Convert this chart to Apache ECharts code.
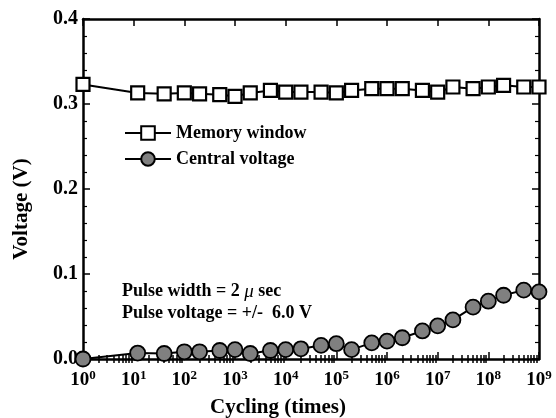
<!DOCTYPE html>
<html>
<head>
<meta charset="utf-8">
<script src="https://cdn.jsdelivr.net/npm/echarts@6/dist/echarts.min.js"></script>
<style>
  html, body { margin: 0; padding: 0; background: #fff; }
  #chart { width: 556px; height: 418px; }
</style>
</head>
<body>
<div id="chart"></div>
<script>
// Endurance cycling data: memory window and central voltage versus cycle count
const cycles = [1, 12, 40, 100, 200, 500, 1000, 2000, 5000, 1e4, 2e4, 5e4, 1e5, 2e5, 5e5,
                1e6, 2e6, 5e6, 1e7, 2e7, 5e7, 1e8, 2e8, 5e8, 1e9];
const memoryWindow = [0.323, 0.313, 0.312, 0.313, 0.312, 0.311, 0.309, 0.313, 0.316, 0.314,
                      0.314, 0.314, 0.313, 0.316, 0.318, 0.318, 0.318, 0.316, 0.314, 0.320,
                      0.318, 0.320, 0.322, 0.320, 0.320];
const centralVoltage = [0.000, 0.007, 0.0065, 0.0085, 0.0085, 0.010, 0.011, 0.0065, 0.010, 0.011,
                        0.012, 0.016, 0.018, 0.011, 0.019, 0.021, 0.025, 0.033, 0.039, 0.046,
                        0.061, 0.068, 0.075, 0.081, 0.079];

// Axis ticks
const decadeTicks = [1, 10, 100, 1e3, 1e4, 1e5, 1e6, 1e7, 1e8, 1e9];
const minorDecadeTicks = [];
decadeTicks.slice(0, -1).forEach(d => { for (let k = 2; k <= 9; k++) minorDecadeTicks.push(d * k); });
const yTicks = [0, 0.1, 0.2, 0.3, 0.4];

const FONT = 'Liberation Serif';
const axisLine = { show: true, onZero: false, lineStyle: { color: '#000', width: 2.5 } };

function logAxis(position, ticks, len, labels, lineShow) {
  return {
    type: 'log', logBase: 10, min: 1, max: 1e9, position: position,
    axisLine: lineShow ? axisLine : { show: false },
    axisTick: { show: true, inside: true, length: len, customValues: ticks,
                lineStyle: { color: '#000', width: 1.5 } },
    axisLabel: labels ? {
      show: true, margin: 10, customValues: decadeTicks,
      formatter: v => '{b|10}{s|' + Math.round(Math.log10(v)) + '}',
      rich: {
        b: { fontFamily: FONT, fontWeight: 'bold', fontSize: 19, color: '#000', lineHeight: 22 },
        s: { fontFamily: FONT, fontWeight: 'bold', fontSize: 13, color: '#000', verticalAlign: 'top', lineHeight: 22 }
      }
    } : { show: false },
    splitLine: { show: false }
  };
}

function valueAxis(position, labels) {
  return {
    type: 'value', min: 0, max: 0.4, interval: 0.1, position: position,
    axisLine: axisLine,
    axisTick: { show: true, inside: true, length: 7, lineStyle: { color: '#000', width: 1.5 } },
    minorTick: { show: true, splitNumber: 5, length: 4, lineStyle: { color: '#000', width: 1.2 } },
    axisLabel: labels ? {
      show: true, margin: 5, customValues: yTicks,
      formatter: v => v.toFixed(1),
      fontFamily: FONT, fontWeight: 'bold', fontSize: 20, color: '#000'
    } : { show: false },
    splitLine: { show: false }
  };
}

const chart = echarts.init(document.getElementById('chart'), null, { renderer: 'canvas' });
chart.setOption({
  animation: false,
  backgroundColor: '#fff',
  grid: { left: 83, top: 19, right: 17, bottom: 59, containLabel: false },
  xAxis: [
    logAxis('bottom', decadeTicks, 7, true, true),
    logAxis('bottom', minorDecadeTicks, 4, false, false),
    logAxis('top', decadeTicks, 7, false, true),
    logAxis('top', minorDecadeTicks, 4, false, false)
  ],
  yAxis: [valueAxis('left', true), valueAxis('right', false)],
  legend: {
    orient: 'vertical', left: 119, top: 119, itemWidth: 46, itemHeight: 17, itemGap: 8,
    textStyle: { fontFamily: FONT, fontWeight: 'bold', fontSize: 18, color: '#000' },
    data: ['Memory window', 'Central voltage']
  },
  graphic: [{
    type: 'text', left: 122, top: 282,
    style: {
      text: '{t|Pulse width = 2 }{m|μ}{t| sec}\n{t|Pulse voltage = +/-  6.0 V}',
      rich: {
        t: { fontFamily: FONT, fontWeight: 'bold', fontSize: 18, fill: '#000', lineHeight: 22 },
        m: { fontFamily: FONT, fontStyle: 'italic', fontSize: 19, fill: '#000', lineHeight: 22 }
      }
    }
  }, {
    type: 'text', left: 'center', top: 397,
    style: { text: 'Cycling (times)', fontFamily: FONT, fontWeight: 'bold', fontSize: 21, fill: '#000' }
  }, {
    type: 'text', left: 11, top: 'middle', rotation: Math.PI / 2,
    style: { text: 'Voltage (V)', fontFamily: FONT, fontWeight: 'bold', fontSize: 21, fill: '#000' }
  }],
  series: [{
    name: 'Memory window', type: 'line', clip: false,
    data: cycles.map((c, i) => [c, memoryWindow[i]]),
    symbol: 'rect', symbolSize: 13,
    lineStyle: { color: '#000', width: 2 },
    itemStyle: { color: '#fff', borderColor: '#000', borderWidth: 2.2 }
  }, {
    name: 'Central voltage', type: 'line', clip: false,
    data: cycles.map((c, i) => [c, centralVoltage[i]]),
    symbol: 'circle', symbolSize: 15,
    lineStyle: { color: '#000', width: 2 },
    itemStyle: { color: '#808080', borderColor: '#000', borderWidth: 1.8 }
  }]
});
</script>
</body>
</html>
